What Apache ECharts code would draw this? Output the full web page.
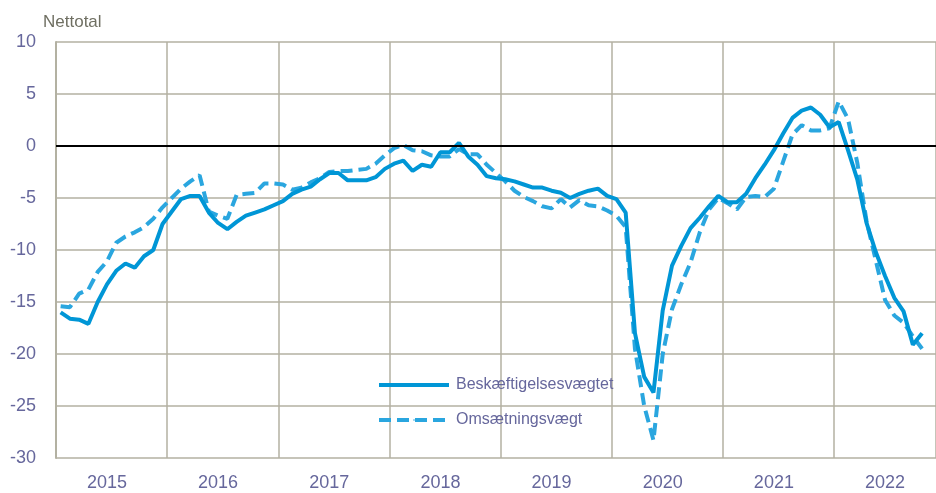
<!DOCTYPE html>
<html>
<head>
<meta charset="utf-8">
<script src="https://cdn.jsdelivr.net/npm/echarts@6/dist/echarts.min.js"></script>
<style>
  html, body { margin: 0; padding: 0; background: #fff; }
  #box { width: 936px; height: 493px; }
</style>
</head>
<body>
<div id="box"></div>
<script>
// måneder jan 2015 - nov 2022
let years = ['2015', '2016', '2017', '2018', '2019', '2020', '2021', '2022'];
let months = [];
years.forEach(function (y) {
    for (let m = 1; m <= 12; m++) months.push(y + '-' + (m < 10 ? '0' + m : m));
});
months = months.slice(0, 95);

// Beskæftigelsesvægtet (fuld linje)
let beskaeft = [
    -16.0, -16.6, -16.7, -17.1, -15.0, -13.3, -12.0, -11.3, -11.7, -10.6, -10.0, -7.5,
    -6.3, -5.1, -4.8, -4.8, -6.4, -7.4, -8.0, -7.3, -6.7, -6.4, -6.1, -5.7,
    -5.3, -4.6, -4.2, -3.9, -3.2, -2.6, -2.6, -3.3, -3.3, -3.3, -3.0, -2.2,
    -1.7, -1.4, -2.4, -1.8, -2.0, -0.6, -0.6, 0.3, -1.0, -1.8, -2.9, -3.1,
    -3.2, -3.4, -3.7, -4.0, -4.0, -4.3, -4.5, -5.0, -4.6, -4.3, -4.1, -4.8,
    -5.1, -6.4, -18.0, -22.2, -23.7, -15.8, -11.5, -9.6, -7.9, -6.9, -5.8, -4.8,
    -5.4, -5.4, -4.6, -3.1, -1.8, -0.4, 1.2, 2.7, 3.4, 3.7, 3.0, 1.8,
    2.3, -0.4, -3.2, -7.4, -10.2, -12.5, -14.6, -15.9, -19.1, -18.0
];

// Omsætningsvægt (stiplet linje)
let omsaetning = [
    -15.4, -15.5, -14.2, -13.8, -12.1, -11.1, -9.3, -8.7, -8.3, -7.8, -7.0, -5.9,
    -5.0, -4.1, -3.4, -2.8, -6.3, -6.7, -7.0, -4.7, -4.6, -4.5, -3.6, -3.6,
    -3.7, -4.2, -4.0, -3.5, -3.1, -2.5, -2.4, -2.4, -2.3, -2.2, -1.7, -0.9,
    -0.2, 0.1, -0.4, -0.5, -0.9, -1.0, -1.0, -0.3, -0.8, -0.8, -1.8, -2.6,
    -3.4, -4.3, -4.9, -5.3, -5.8, -6.0, -5.1, -5.9, -5.2, -5.7, -5.8, -6.2,
    -6.7, -7.8, -19.5, -25.0, -28.3, -20.0, -15.7, -13.3, -11.2, -8.3, -6.1, -5.0,
    -5.5, -6.1, -4.9, -4.8, -4.9, -4.1, -1.5, 1.1, 2.0, 1.5, 1.5, 1.7,
    4.3, 2.6, -1.6, -7.2, -11.0, -14.8, -16.3, -17.0, -18.3, -19.5
];

let fontName = '"Liberation Sans", Arial, sans-serif';
let gridColor = '#b3b1a2';
let textColor = '#66679c';

let chart = echarts.init(document.getElementById('box'));

let option = {
    backgroundColor: '#fff',
    animation: false,
    textStyle: { fontFamily: fontName },
    title: {
        text: 'Nettotal',
        left: 38,
        top: 9,
        textStyle: { fontFamily: fontName, fontSize: 17, fontWeight: 'normal', color: '#6f6f62' }
    },
    legend: {
        orient: 'vertical',
        left: 377,
        top: 377,
        padding: 0,
        itemWidth: 70,
        itemHeight: 2,
        itemGap: 19,
        lineStyle: { width: 4 },
        data: ['Beskæftigelsesvægtet', 'Omsætningsvægt'],
        textStyle: { fontFamily: fontName, fontSize: 16, color: textColor, padding: [0, 0, 0, 2] }
    },
    grid: { left: 56, right: 0, top: 42, bottom: 35 },
    xAxis: {
        type: 'category',
        data: months,
        boundaryGap: true,
        axisLine: { show: true, lineStyle: { color: gridColor, width: 2 } },
        axisTick: { show: false },
        axisLabel: {
            interval: function (index) { return index % 12 === 5; },
            formatter: function (v) { return v.slice(0, 4); },
            fontSize: 18,
            color: textColor,
            margin: 16
        },
        splitLine: {
            show: true,
            interval: function (index) { return index % 12 === 0; },
            lineStyle: { color: gridColor, width: 1.5 }
        }
    },
    yAxis: {
        type: 'value',
        min: -30,
        max: 10,
        interval: 5,
        axisLine: { show: true, lineStyle: { color: gridColor, width: 2 } },
        axisTick: { show: false },
        axisLabel: { fontSize: 18, color: textColor, margin: 20 },
        splitLine: { lineStyle: { color: gridColor, width: 1.5 } }
    },
    series: [
        {
            name: 'Beskæftigelsesvægtet',
            type: 'line',
            data: beskaeft,
            symbol: 'none',
            z: 4,
            lineStyle: { color: '#0096d6', width: 4 },
            itemStyle: { color: '#0096d6' }
        },
        {
            name: 'Omsætningsvægt',
            type: 'line',
            data: omsaetning,
            symbol: 'none',
            z: 3,
            lineStyle: { color: '#2aa6df', width: 4, type: [12, 6] },
            itemStyle: { color: '#2aa6df' },
            markLine: {
                silent: true,
                symbol: 'none',
                label: { show: false },
                lineStyle: { color: '#000', width: 2, type: 'solid' },
                data: [{ yAxis: 0 }]
            }
        }
    ]
};

chart.setOption(option);
</script>
</body>
</html>
